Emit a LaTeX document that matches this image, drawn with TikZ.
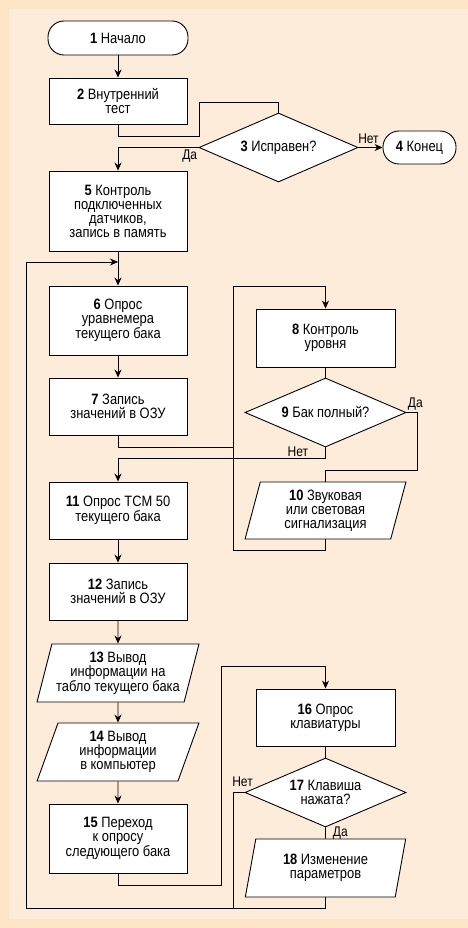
\documentclass[tikz,border=0pt]{standalone}
\usepackage{fontspec}
\setmainfont{Liberation Sans}[FakeStretch=0.86]
\usetikzlibrary{shapes.geometric,arrows.meta,positioning}
\definecolor{bgout}{RGB}{252,228,196}
\definecolor{bgin}{RGB}{254,236,218}

\begin{document}
\begin{tikzpicture}[x=1pt, y=-1pt, line width=0.8pt,
  every node/.style={font=\fontsize{15}{14}\selectfont, align=center, inner sep=0pt},
  box/.style={draw, fill=white, line width=0.9pt, minimum width=138pt},
  term/.style={box, rounded corners=16pt},
  dec/.style={draw, fill=white, line width=0.9pt, diamond, aspect=2.3, minimum width=161pt, minimum height=69pt},
  io/.style={draw, fill=white, line width=0.9pt, trapezium, trapezium stretches=true,
    trapezium left angle=77, trapezium right angle=103, minimum width=161pt},
  arr/.style={-{Stealth[length=8pt,width=7pt]}},
  lbl/.style={font=\fontsize{14}{14}\selectfont}]
\useasboundingbox (0,0) rectangle (468,928);
\fill[bgout] (0,0) rectangle (468,928);
\fill[bgin] (9,9) rectangle (468,919);
%
\node[term, minimum width=140pt, minimum height=34pt] (n1) at (118,38) {\textbf{1} Начало};
\node[box, minimum height=46pt] (n2) at (118,101) {\textbf{2} Внутренний\\тест};
\node[dec, minimum width=159pt] (n3) at (278.5,147.5) {\textbf{3} Исправен?};
\node[term, minimum width=73pt, minimum height=33pt] (n4) at (419.5,147.5) {\textbf{4} Конец};
\node[box, minimum height=80pt] (n5) at (118,211) {\textbf{5} Контроль\\подключенных\\датчиков,\\запись в память};
\node[box, minimum height=69pt] (n6) at (118,320.5) {\textbf{6} Опрос\\уравнемера\\текущего бака};
\node[box, minimum height=57pt] (n7) at (118,406.5) {\textbf{7} Запись\\значений в ОЗУ};
\node[box, minimum width=139pt, minimum height=58pt] (n8) at (325.5,338) {\textbf{8} Контроль\\уровня};
\node[dec] (n9) at (325.5,412.5) {\textbf{9} Бак полный?};
\node[io, minimum height=57pt] (n10) at (325.5,510.5) {\textbf{10} Звуковая\\или световая\\сигнализация};
%
\node[box, minimum height=57pt] (n11) at (118,510.5) {\textbf{11} Опрос ТСМ 50\\текущего бака};
\node[box, minimum height=57pt] (n12) at (118,591.5) {\textbf{12} Запись\\значений в ОЗУ};
\node[io, trapezium left angle=72, trapezium right angle=108, minimum width=162pt, minimum height=58pt] (n13) at (118,673) {\textbf{13} Вывод\\информации на\\табло текущего бака};
\node[io, trapezium left angle=72, trapezium right angle=108, minimum width=162pt, minimum height=58pt] (n14) at (118,752) {\textbf{14} Вывод\\информации\\в компьютер};
\node[box, minimum height=69pt] (n15) at (118,838.5) {\textbf{15} Переход\\к опросу\\следующего бака};
\node[box, minimum width=139pt, minimum height=57pt] (n16) at (325.5,717.5) {\textbf{16} Опрос\\клавиатуры};
\node[dec] (n17) at (325.5,792.5) {\textbf{17} Клавиша\\нажата?};
\node[io, minimum height=58pt] (n18) at (325.5,868) {\textbf{18} Изменение\\параметров};
%
\coordinate (j1) at (n5.south |- 0,262);
%
\draw[arr] (n1) -- (n2);
\draw (n2.south) |- (199,136) |- (n3.north |- 0,102) -- (n3.north);
\draw[arr] (n3.east) -- (n4.west) node[lbl, midway, above=3pt, xshift=-2pt] {Нет};
\draw[arr] (n3.west) node[lbl, below left=2pt and 1pt] {Да} -| (n5.north);
\draw[arr] (n5) -- (n6);
\draw[arr] (n6) -- (n7);
\draw[arr] (n7.south) |- (233,447) |- (n8.north |- 0,286) -- (n8.north);
\draw (n8) -- (n9);
\draw (n9.east) node[lbl, above right=2pt and 1pt] {Да} -| (417,470) -| (n10.north);
\draw[arr] (n9.south) -- ++(0,11) coordinate (c9) -| (n11.north);
\node[lbl, above left=1pt and 17pt] (no9) at (c9) {Нет};
\draw (n10.south) -- ++(0,11) -| (233,447);
%
\draw[arr] (n11) -- (n12);
\draw[arr] (n12) -- (n13);
\draw[arr] (n13) -- (n14);
\draw[arr] (n14) -- (n15);
\draw[arr] (n15.south) -- ++(0,12) -| (221,666) -| (n16.north);
\draw (n16) -- (n17);
\draw (n17.west) node[lbl, above=5pt, xshift=-2pt] {Нет} -| (233,908);
\draw (n17.south) -- (n18.north) node[lbl, midway, right=7pt] {Да};
\draw[arr] (n18.south) |- (26,908) |- (j1);
\end{tikzpicture}
\end{document}
